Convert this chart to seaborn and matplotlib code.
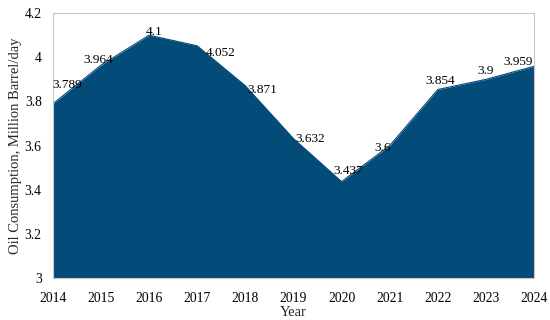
import matplotlib
matplotlib.use("Agg")
import matplotlib.pyplot as plt
import seaborn as sns
import pandas as pd

# data
years = [2014, 2015, 2016, 2017, 2018, 2019, 2020, 2021, 2022, 2023, 2024]
consumption = [3.789, 3.964, 4.1, 4.052, 3.871, 3.632, 3.437, 3.6, 3.854, 3.9, 3.959]
value_labels = ["3.789", "3.964", "4.1", "4.052", "3.871", "3.632", "3.437", "3.6", "3.854", "3.9", "3.959"]

# hand-placed label offsets (pixels), like the original
label_offsets = [(14, 19), (-3, 5), (5, 3), (23, -7), (17, -4), (17, 0),
                 (7, 11), (-7, -2), (2, 9), (0, 8), (-16, 4)]

sns.set_theme(style="white")
plt.rcParams['font.family'] = ['Liberation Serif', 'DejaVu Serif']

fill_color = "#034B78"

df = pd.DataFrame({"year": years, "value": consumption})

fig = plt.figure(figsize=(5.5, 3.2), dpi=100)
ax = fig.add_axes([0.096, 0.131, 0.875, 0.828])

sns.lineplot(data=df, x="year", y="value", color=fill_color, linewidth=0.8, ax=ax)
ax.fill_between(df["year"], df["value"], 3, color=fill_color, linewidth=0)

for yr, val, txt, (dx, dy) in zip(years, consumption, value_labels, label_offsets):
    ax.annotate(txt, (yr, val), xytext=(dx, dy), textcoords="offset pixels",
                ha="center", va="center", fontsize=9.5, color="black")

ax.set_xlim(2014, 2024)
ax.set_ylim(3, 4.2)
ax.set_xticks(years)
ax.set_xticklabels([str(y) for y in years])
ax.set_yticks([3, 3.2, 3.4, 3.6, 3.8, 4, 4.2])
ax.set_yticklabels(["3", "3.2", "3.4", "3.6", "3.8", "4", "4.2"])
ax.tick_params(axis="both", length=0, labelsize=9.8, colors="black")
ax.tick_params(axis="x", pad=10)
ax.tick_params(axis="y", pad=8)

for sp in ax.spines.values():
    sp.set_color("#C8C8C8")
    sp.set_linewidth(0.8)

ax.set_xlabel("Year", fontsize=10.5, labelpad=1)
ax.set_ylabel("Oil Consumption, Million Barrel/day", fontsize=10.5, labelpad=2)

fig.savefig("out.png", dpi=100)
